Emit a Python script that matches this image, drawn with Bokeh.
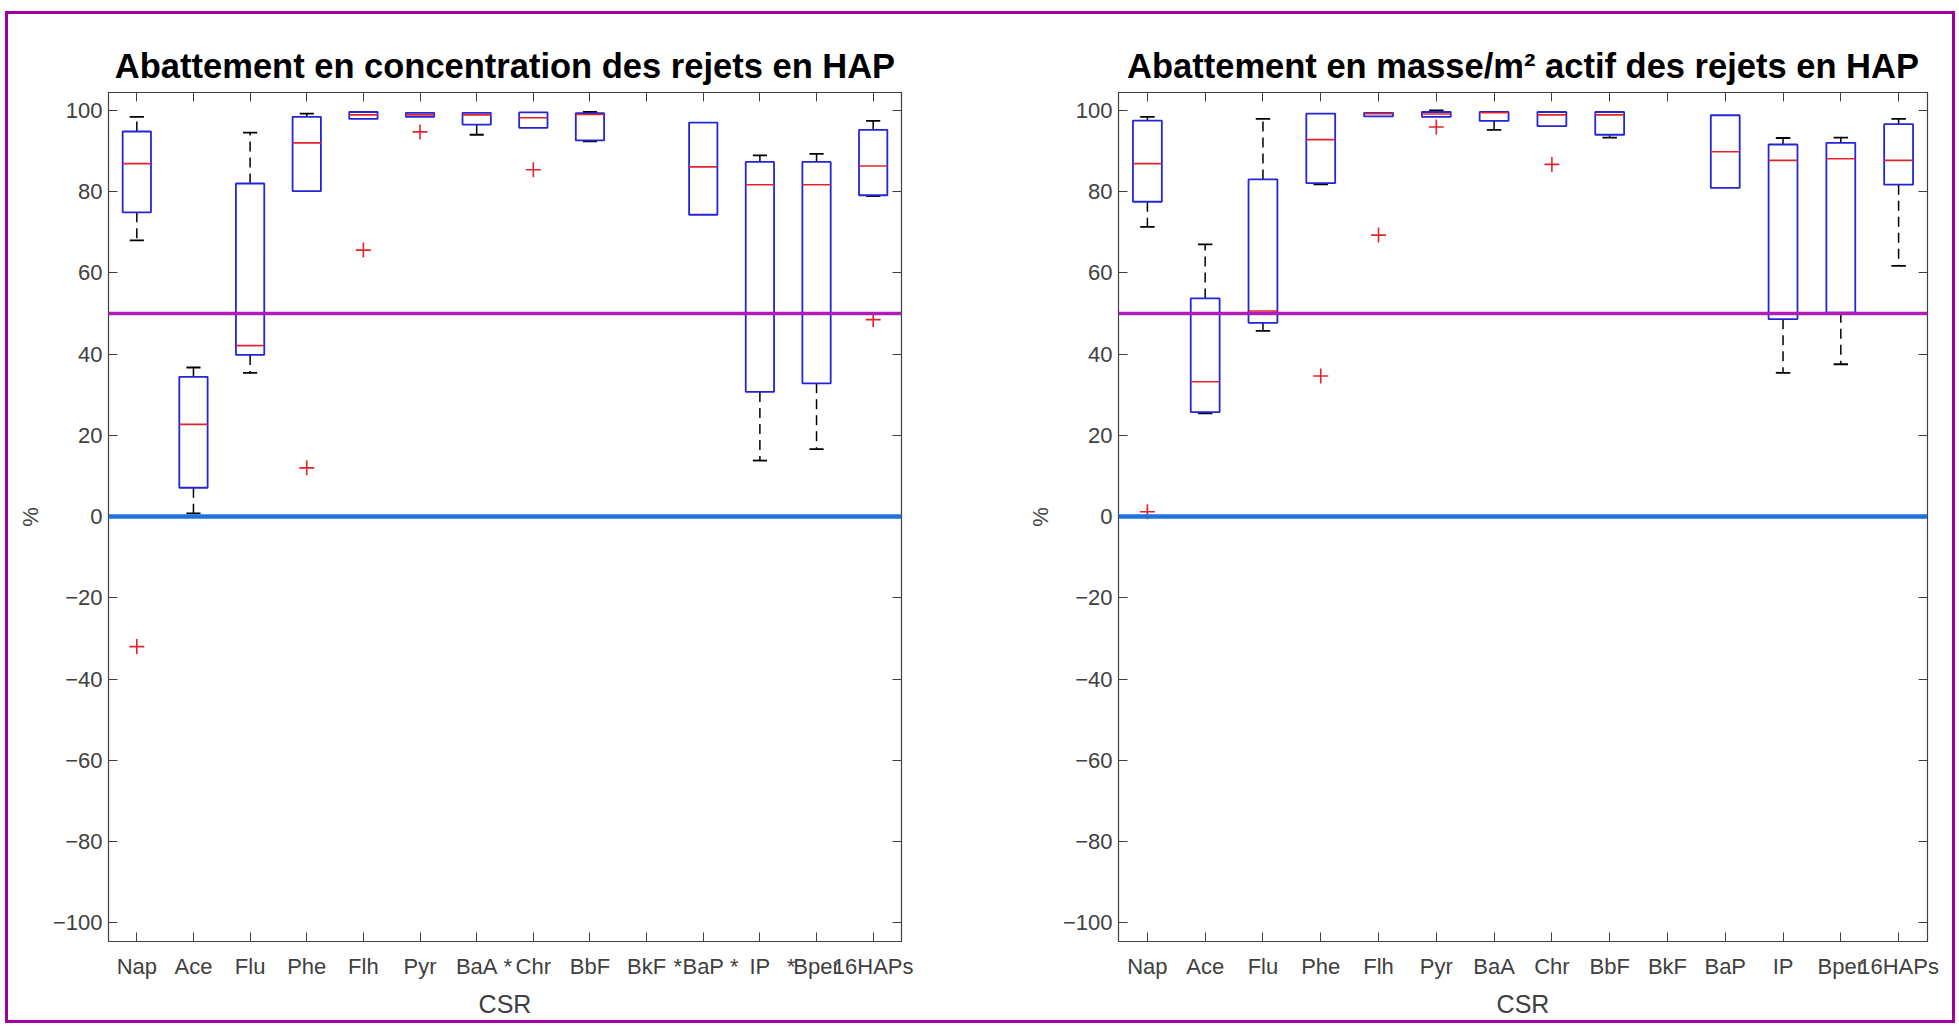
import numpy as np
from bokeh.plotting import figure
from bokeh.models import Range1d, FixedTicker, LinearAxis, Span
from bokeh.layouts import row
from bokeh.embed import file_html
from bokeh.resources import INLINE

nan = float("nan")

categories = ["Nap", "Ace", "Flu", "Phe", "Flh", "Pyr", "BaA", "Chr", "BbF", "BkF", "BaP", "IP", "Bper", "16HAPs"]
y_ticks = [-100, -80, -60, -40, -20, 0, 20, 40, 60, 80, 100]

# Left panel: abatement in concentration (%)
conc_lower = [68.0, 0.8, 35.4, nan, nan, nan, 94.0, nan, 92.4, nan, nan, 13.8, 16.6, 78.9]
conc_q1 = [74.9, 7.1, 39.8, 80.1, 97.9, 98.4, 96.5, 95.7, 92.6, nan, 74.3, 30.7, 32.8, 79.1]
conc_median = [86.9, 22.7, 42.1, 92.0, 98.9, 98.9, 98.9, 98.2, 99.0, nan, 86.1, 81.7, 81.7, 86.3]
conc_q3 = [94.8, 34.4, 82.0, 98.4, 99.6, 99.4, 99.4, 99.5, 99.3, nan, 97.0, 87.3, 87.3, 95.2]
conc_upper = [98.4, 36.7, 94.5, 99.2, nan, nan, nan, nan, 99.6, nan, nan, 88.9, 89.3, 97.4]
conc_out_cat = ["Nap", "Phe", "Flh", "Pyr", "Chr", "16HAPs"]
conc_out_val = [-32.0, 12.0, 65.6, 94.7, 85.4, 48.5]
conc_starred = ["BaA", "BkF", "BaP", "IP"]

# Right panel: abatement in mass per active m2 (%)
mass_lower = [71.3, 25.4, 45.7, 81.8, nan, nan, 95.2, nan, 93.3, nan, nan, 35.4, 37.5, 61.7]
mass_q1 = [77.5, 25.7, 47.7, 82.1, 98.5, 98.4, 97.4, 96.1, 94.0, nan, 80.9, 48.6, 50.2, 81.7]
mass_median = [86.9, 33.2, 50.6, 92.8, 99.2, 99.1, 99.4, 98.9, 98.9, nan, 89.8, 87.7, 88.1, 87.7]
mass_q3 = [97.5, 53.7, 83.0, 99.2, 99.4, 99.6, 99.6, 99.6, 99.6, nan, 98.8, 91.6, 92.0, 96.6]
mass_upper = [98.4, 67.0, 97.9, nan, nan, 100.0, nan, nan, nan, nan, nan, 93.2, 93.3, 97.9]
mass_out_cat = ["Nap", "Phe", "Flh", "Pyr", "Chr"]
mass_out_val = [1.2, 34.6, 69.3, 95.9, 86.7]
mass_starred = []

ref_lines = [50, 0]

FONT = "Liberation Sans"
BLUE = "#2424d8"
RED = "#e3242b"
AX = "#404040"
H = 1012
STAR_OFFSET = 0.55


def finite(*arrs):
    a = [np.asarray(x, dtype=float) for x in arrs]
    m = np.ones(len(a[0]), dtype=bool)
    for x in a:
        m &= np.isfinite(x)
    return [x[m] for x in a]


def make_panel(title, lower, q1, med, q3, upper, out_cat, out_val, starred, width, mbl, mbr):
    pos = np.arange(1, len(categories) + 1, dtype=float)
    cat_ticks = list(range(1, len(categories) + 1))
    p = figure(width=width, height=H, x_range=Range1d(0.5, 14.5), y_range=Range1d(-104.6, 104.4),
               output_backend="svg", toolbar_location=None, title=title,
               min_border_left=mbl, min_border_right=mbr, min_border_top=81, min_border_bottom=82)
    p.xgrid.visible = False
    p.ygrid.visible = False
    p.background_fill_color = "white"
    p.border_fill_alpha = 0
    p.outline_line_color = AX
    p.outline_line_width = 1.2

    p.title.text_font = FONT
    p.title.text_font_size = "34.5px"
    p.title.text_font_style = "bold"
    p.title.text_color = "black"
    p.title.align = "center"
    p.title.standoff = 16

    # reference lines
    p.add_layout(Span(location=ref_lines[0], dimension="width", line_color="#b01cb8", line_width=3.4))
    p.add_layout(Span(location=ref_lines[1], dimension="width", line_color="#1f72dc", line_width=4.5))

    # whiskers (dashed) and caps
    x, a, b = finite(pos, q3, upper)
    p.segment(x0=x, y0=a, x1=x, y1=b, line_color="black", line_width=1.5, line_dash="10 6")
    p.segment(x0=x - 0.125, y0=b, x1=x + 0.125, y1=b, line_color="black", line_width=1.8)
    x, a, b = finite(pos, q1, lower)
    p.segment(x0=x, y0=a, x1=x, y1=b, line_color="black", line_width=1.5, line_dash="10 6")
    p.segment(x0=x - 0.125, y0=b, x1=x + 0.125, y1=b, line_color="black", line_width=1.8)

    # boxes
    x, lo, hi = finite(pos, q1, q3)
    p.quad(left=x - 0.25, right=x + 0.25, bottom=lo, top=hi, fill_color=None,
           line_color=BLUE, line_width=1.8)
    # medians
    x, m = finite(pos, med)
    p.segment(x0=x - 0.25, y0=m, x1=x + 0.25, y1=m, line_color=RED, line_width=1.6)

    # outliers
    ox = [categories.index(c) + 1 for c in out_cat]
    p.scatter(x=ox, y=out_val, marker="cross", size=15, line_color=RED, line_width=1.6)

    # bottom axis: category labels (+ asterisks) as major labels, tick marks as minor ticks
    star_pos = [categories.index(c) + 1 + STAR_OFFSET for c in starred]
    overrides = {i + 1: c for i, c in enumerate(categories)}
    for s in star_pos:
        overrides[s] = "*"
    p.xaxis.ticker = FixedTicker(ticks=cat_ticks + star_pos, minor_ticks=cat_ticks)
    p.xaxis.major_label_overrides = overrides
    p.xaxis.major_tick_line_color = None
    p.xaxis.minor_tick_in = 9
    p.xaxis.minor_tick_out = 0
    p.xaxis.minor_tick_line_color = AX

    p.yaxis.ticker = FixedTicker(ticks=y_ticks)
    p.yaxis.major_tick_in = 9
    p.yaxis.major_tick_out = 0
    p.yaxis.minor_tick_line_color = None
    p.yaxis.major_tick_line_color = AX
    for ax in (p.xaxis[0], p.yaxis[0]):
        ax.axis_line_color = AX
        ax.major_label_text_font = FONT
        ax.major_label_text_font_size = "22px"
        ax.major_label_text_color = AX
        ax.axis_label_text_font = FONT
        ax.axis_label_text_font_style = "normal"
        ax.axis_label_text_color = AX
    p.xaxis.major_label_standoff = 6
    p.yaxis.major_label_standoff = 6
    p.xaxis.axis_label = "CSR"
    p.xaxis.axis_label_text_font_size = "25px"
    p.xaxis.axis_label_standoff = 8
    p.yaxis.axis_label = "%"
    p.yaxis.axis_label_text_font_size = "22px"
    p.yaxis.axis_label_standoff = 7

    # box-style tick marks on top and right (minor ticks only, no labels)
    top = LinearAxis(ticker=FixedTicker(ticks=[], minor_ticks=cat_ticks),
                     major_label_standoff=0, major_tick_line_color=None,
                     minor_tick_in=9, minor_tick_out=0, minor_tick_line_color=AX,
                     axis_line_color=AX)
    p.add_layout(top, "above")
    right = LinearAxis(ticker=FixedTicker(ticks=[], minor_ticks=y_ticks),
                       major_label_standoff=0, major_tick_line_color=None,
                       minor_tick_in=9, minor_tick_out=0, minor_tick_line_color=AX,
                       axis_line_color=AX)
    p.add_layout(right, "right")
    return p


p1 = make_panel("Abattement en concentration des rejets en HAP",
                conc_lower, conc_q1, conc_median, conc_q3, conc_upper,
                conc_out_cat, conc_out_val, conc_starred, width=936, mbl=103, mbr=40)
p2 = make_panel("Abattement en masse/m² actif des rejets en HAP",
                mass_lower, mass_q1, mass_median, mass_q3, mass_upper,
                mass_out_cat, mass_out_val, mass_starred, width=1014, mbl=177, mbr=28)

layout = row(p1, p2, margin=(11, 0, 0, 5),
             styles={"outline": "3px solid #a000a0", "outline-offset": "-3px"})
open("out.html", "w").write(file_html(layout, INLINE))
